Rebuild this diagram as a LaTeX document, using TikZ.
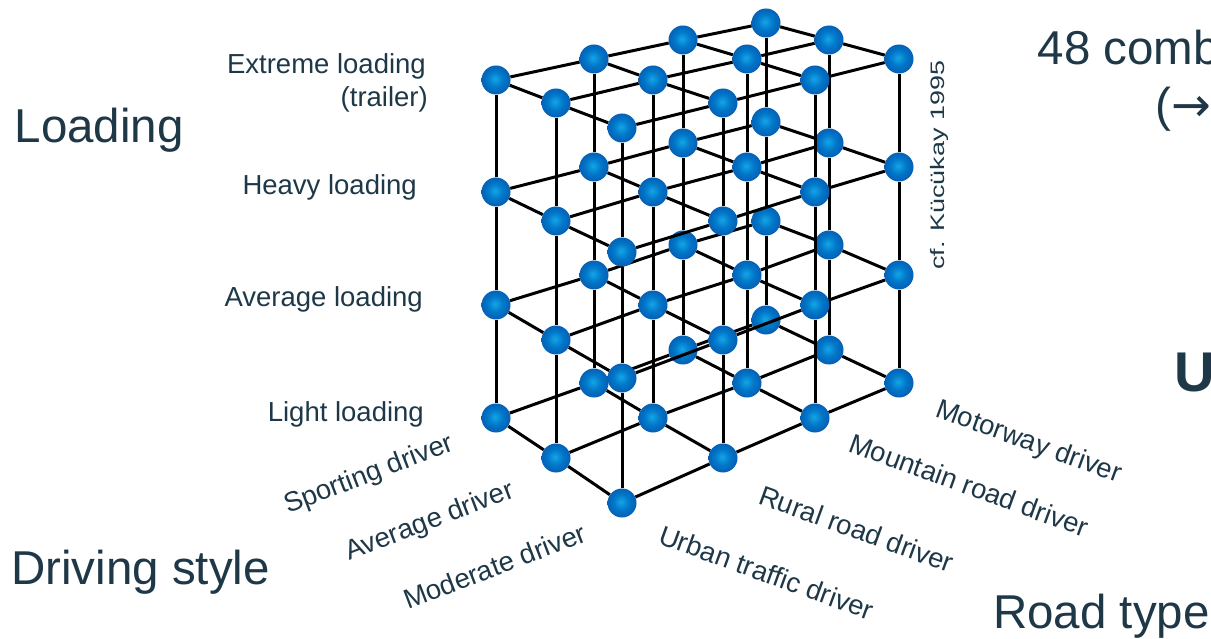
\documentclass[tikz,border=0pt]{standalone}
\usepackage{fontspec}
\setmainfont{Liberation Sans}
\newfontfamily\arrowfont{DejaVu Sans}
\usepackage{graphicx}
\definecolor{txt}{RGB}{30,56,72}
\definecolor{ballA}{RGB}{20,165,230}
\definecolor{ballB}{RGB}{0,118,200}
\definecolor{ballC}{RGB}{10,78,165}
\definecolor{ballD}{RGB}{22,48,120}
\pgfdeclareradialshading{ballshade}{\pgfpoint{-2bp}{2bp}}{color(0bp)=(ballA); color(14bp)=(ballB); color(34bp)=(ballC); color(50bp)=(ballD)}
\tikzset{
  anchorpt/.style={circle, minimum size=29pt, inner sep=0pt},
  ballnode/.style={circle, minimum size=29pt, inner sep=0pt, shade, shading=ballshade},
  rod/.style={line width=3pt, black},
  lab/.style={text=txt, font=\fontsize{27.5}{33}\selectfont, inner sep=0pt},
  big/.style={text=txt, font=\fontsize{47.5}{57}\selectfont, inner sep=0pt},
}
\begin{document}
\begin{tikzpicture}[x=1pt, y=-1pt]
\useasboundingbox (0,0) rectangle (1211,639);
\fill[white] (0,0) rectangle (1211,639);
\def\XX{{496,594,683,766,556,653,747,829,622,723,815,899}}
\def\YY{{320,221,122,23,350,245,143,40,383,275,167,59,418,305,192,80,458,340,221,103,503,378,252,128}}
% anchor nodes of the 4 x 3 x 4 lattice
\foreach \i in {0,...,3}{\foreach \j in {0,1,2}{\foreach \k in {0,...,3}{
  \pgfmathsetmacro\px{\XX[\j*4+\i]}
  \pgfmathsetmacro\py{\YY[(\j-\i+3)*4+\k]}
  \node[anchorpt] (b-\i-\j-\k) at (\px,\py) {};
}}}
% painter's order: far to near
\foreach \s in {3,2,1,0,-1,-2}{
  \foreach \i in {0,...,3}{
    \pgfmathtruncatemacro\j{\i-\s}
    \ifnum\j>-1 \ifnum\j<3
      \draw[rod] (b-\i-\j-0) -- (b-\i-\j-1);
      \draw[rod] (b-\i-\j-1) -- (b-\i-\j-2);
      \draw[rod] (b-\i-\j-2) -- (b-\i-\j-3);
      \foreach \k in {0,...,3}{\node[ballnode] (s-\i-\j-\k) at (b-\i-\j-\k) {};}
    \fi\fi
  }
  \foreach \i in {0,...,3}{
    \pgfmathtruncatemacro\j{\i-\s}
    \pgfmathtruncatemacro\jnext{\j+1}
    \ifnum\j>-1 \ifnum\j<2
      \foreach \k in {0,...,3}{\draw[rod] (b-\i-\j-\k) -- (b-\i-\jnext-\k);}
    \fi\fi
    \pgfmathtruncatemacro\jj{\i-\s+1}
    \pgfmathtruncatemacro\inext{\i+1}
    \ifnum\i<3 \ifnum\jj>-1 \ifnum\jj<3
      \foreach \k in {0,...,3}{\draw[rod] (b-\i-\jj-\k) -- (b-\inext-\jj-\k);}
    \fi\fi\fi
  }
}
% loading labels
\node[lab, anchor=base east] (ext) at (426,74) {Extreme loading};
\node[lab, anchor=base east] (trl) at (428,106.5) {(trailer)};
\node[lab, anchor=base east] (hvy) at (417,195) {Heavy loading};
\node[lab, anchor=base east] (avg) at (423,307) {Average loading};
\node[lab, anchor=base east] (lgt) at (424,421) {Light loading};
% driving style labels
\node[lab, anchor=base west, rotate=21] (dspo) at (288,514) {Sporting driver};
\node[lab, anchor=base west, rotate=21] (davg) at (349,561) {Average driver};
\node[lab, anchor=base west, rotate=21] (dmod) at (408,610) {Moderate driver};
% road type labels
\node[lab, anchor=base west, rotate=-20] (rurb) at (657,543) {Urban traffic driver};
\node[lab, anchor=base west, rotate=-20] (rrur) at (757,503) {Rural road driver};
\node[lab, anchor=base west, rotate=-20] (rmtn) at (847,451) {Mountain road driver};
\node[lab, anchor=base west, rotate=-20] (rmot) at (934,416) {Motorway driver};
% citation
\node[lab, anchor=base west, rotate=90, font=\fontsize{19.5}{22}\selectfont] (cite) at (944,270) {\scalebox{1.38}[1]{cf. Kücükay 1995}};
% big titles
\node[big, anchor=base west] (tload) at (14.5,143) {Loading};
\node[big, anchor=base west] (tdrv) at (11,584) {Driving style};
\node[big, anchor=base west] (troad) at (993,628) {Road type};
\node[big, anchor=base west] (tcomb) at (1037.5,65) {48 comb};
\node[big, anchor=base west] (tarr) at (1155,122) {({\arrowfont →}};
\node[big, anchor=base west, font=\bfseries\fontsize{56}{60}\selectfont] (tu) at (1174,391) {U};
\end{tikzpicture}
\end{document}
